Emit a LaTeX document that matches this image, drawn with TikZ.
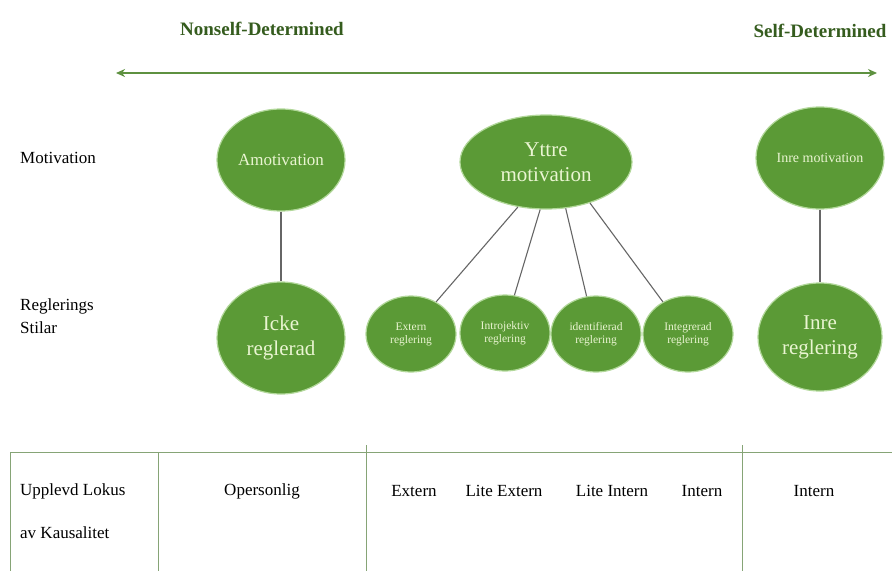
\documentclass[tikz,border=0pt]{standalone}
\usepackage{fontspec}
\setmainfont{Liberation Serif}
\usetikzlibrary{shapes.geometric,arrows.meta}
\definecolor{hdr}{HTML}{355C1E}
\definecolor{efill}{HTML}{5B9A36}
\definecolor{edge}{HTML}{B2D89A}
\definecolor{etext}{HTML}{EAF5D2}
\definecolor{arrowc}{HTML}{5E9140}
\definecolor{tabline}{HTML}{86A476}
\definecolor{connc}{HTML}{666666}
\tikzset{
  bubble/.style={ellipse, fill=efill, draw=edge, line width=1.2pt, text=etext, inner sep=0pt, align=center},
  conn/.style={draw=connc, line width=1.1pt},
  lbl/.style={anchor=west, inner sep=0pt, align=left, font=\fontsize{17}{23}\selectfont},
  cell/.style={inner sep=0pt, font=\fontsize{17}{20}\selectfont},
  head/.style={inner sep=0pt, text=hdr, font=\fontsize{19}{24}\selectfont\bfseries},
  tab/.style={draw=tabline, line width=1pt}
}
\begin{document}
\begin{tikzpicture}[x=1pt,y=-1pt]
\useasboundingbox[fill=white] (0,0) rectangle (892,571);
% headers
\node[head] (nsd) at (262,29) {Nonself-Determined};
\node[head] (sd) at (820,31) {Self-Determined};
\coordinate (aL) at (116,73);
\coordinate (aR) at (877,73);
\draw[arrowc, line width=1.5pt, {Stealth[length=9pt,width=8pt]}-{Stealth[length=9pt,width=8pt]}] (aL) -- (aR);
% left labels
\node[lbl] (mot) at (20,158) {Motivation};
\node[lbl] (reg) at (20,316) {Reglerings\\Stilar};
% top row
\node[bubble, minimum width=128pt, minimum height=102pt, font=\fontsize{17}{20}\selectfont] (amot) at (281,160) {Amotivation};
\node[bubble, minimum width=172pt, minimum height=94pt, font=\fontsize{21}{25}\selectfont] (yttre) at (546,162) {Yttre\\motivation};
\node[bubble, minimum width=128pt, minimum height=102pt, font=\fontsize{14}{17}\selectfont] (inrem) at (820,158) {Inre motivation};
% second row
\node[bubble, minimum width=128pt, minimum height=112pt, font=\fontsize{21}{25}\selectfont] (icke) at (281,338) {Icke\\reglerad};
\node[bubble, minimum width=90pt, minimum height=76pt, font=\fontsize{11.5}{13}\selectfont] (ext) at (411,334) {Extern\\reglering};
\node[bubble, minimum width=90pt, minimum height=76pt, font=\fontsize{11.5}{13}\selectfont] (intro) at (505,333) {Introjektiv\\reglering};
\node[bubble, minimum width=90pt, minimum height=76pt, font=\fontsize{11.5}{13}\selectfont] (ident) at (596,334) {identifierad\\reglering};
\node[bubble, minimum width=90pt, minimum height=76pt, font=\fontsize{11.5}{13}\selectfont] (integ) at (688,334) {Integrerad\\reglering};
\node[bubble, minimum width=124pt, minimum height=108pt, font=\fontsize{21}{25}\selectfont] (inrer) at (820,337) {Inre\\reglering};
% connectors
\draw[conn] (amot) -- (icke);
\draw[conn] (inrem) -- (inrer);
\draw[conn] (yttre.238) -- (ext.52);
\draw[conn] (yttre.263) -- (intro.76);
\draw[conn] (yttre.293) -- (ident.104);
\draw[conn] (yttre.317) -- (integ.128);
% table
\coordinate (tl) at (10,452);
\coordinate (tr) at (892,452);
\coordinate (v0t) at (10,452);
\coordinate (v0b) at (10,571);
\coordinate (v1t) at (158,452);
\coordinate (v1b) at (158,571);
\coordinate (v2t) at (366,445);
\coordinate (v2b) at (366,571);
\coordinate (v3t) at (742,445);
\coordinate (v3b) at (742,571);
\draw[tab] (tl) -- (tr);
\draw[tab] (v0t) -- (v0b);
\draw[tab] (v1t) -- (v1b);
\draw[tab] (v2t) -- (v2b);
\draw[tab] (v3t) -- (v3b);
\node[cell, anchor=west] (ul) at (20,491) {Upplevd Lokus};
\node[cell, anchor=west] (ak) at (20,533) {av Kausalitet};
\node[cell] (ops) at (262,491) {Opersonlig};
\node[cell] (c1) at (414,491) {Extern};
\node[cell] (c2) at (504,491) {Lite Extern};
\node[cell] (c3) at (612,491) {Lite Intern};
\node[cell] (c4) at (702,491) {Intern};
\node[cell] (c5) at (814,491) {Intern};
\end{tikzpicture}
\end{document}
